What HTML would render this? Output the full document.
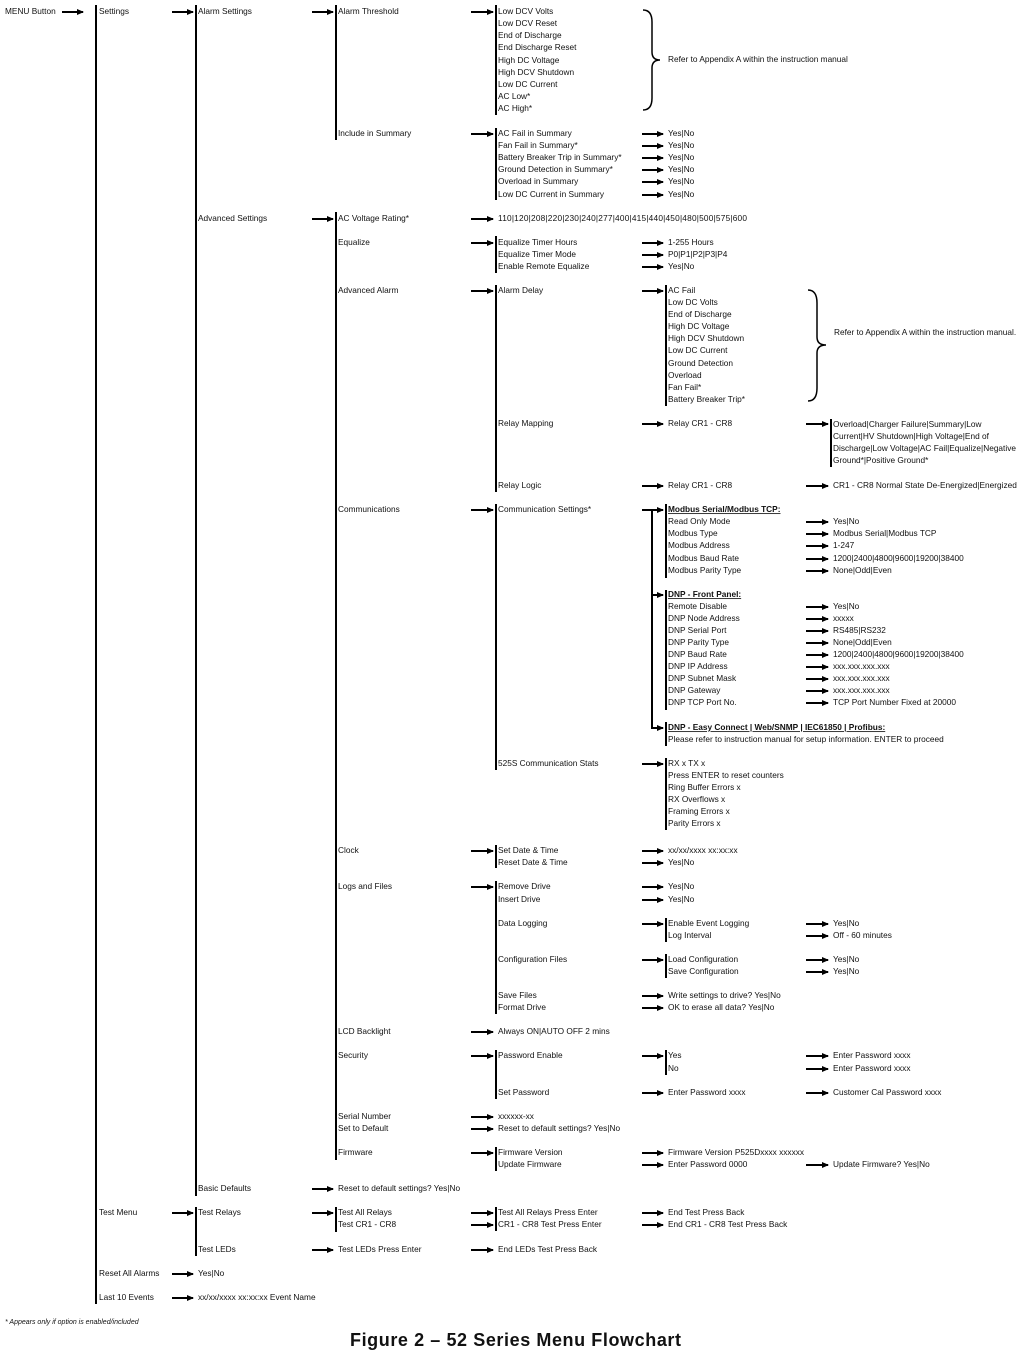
<!DOCTYPE html>
<html><head><meta charset="utf-8">
<style>
html,body{margin:0;padding:0;background:#fff;}
svg{display:block;}
text{font-family:"Liberation Sans",sans-serif;font-size:8.3px;fill:#111;dominant-baseline:middle;}
.b{font-weight:bold;text-decoration:underline;}
.v{stroke:#000;stroke-width:2;}
.a{stroke:#000;stroke-width:2;marker-end:url(#h);}
</style></head><body>
<svg width="1028" height="1360" viewBox="0 0 1028 1360" xmlns="http://www.w3.org/2000/svg">
<defs><marker id="h" markerUnits="userSpaceOnUse" markerWidth="8" markerHeight="8" refX="6" refY="3.5" orient="auto"><path d="M0,0.5 L7,3.5 L0,6.5 z" fill="#000"/></marker></defs>

<!-- vertical lines -->
<g class="v">
<line x1="96" y1="5" x2="96" y2="1304"/>
<line x1="196" y1="5" x2="196" y2="1196"/><line x1="196" y1="1207" x2="196" y2="1256"/>
<line x1="336" y1="5" x2="336" y2="140"/><line x1="336" y1="212" x2="336" y2="1160"/><line x1="336" y1="1207" x2="336" y2="1232"/>
<line x1="496" y1="5" x2="496" y2="115"/><line x1="496" y1="128" x2="496" y2="200"/><line x1="496" y1="236" x2="496" y2="273"/><line x1="496" y1="285" x2="496" y2="492"/><line x1="496" y1="504" x2="496" y2="770"/><line x1="496" y1="845" x2="496" y2="868"/><line x1="496" y1="881" x2="496" y2="1014"/><line x1="496" y1="1050" x2="496" y2="1099"/><line x1="496" y1="1147" x2="496" y2="1171"/><line x1="496" y1="1207" x2="496" y2="1231"/>
<line x1="666" y1="285" x2="666" y2="406"/><line x1="666" y1="504" x2="666" y2="578"/><line x1="666" y1="590" x2="666" y2="710"/><line x1="666" y1="722" x2="666" y2="746"/><line x1="666" y1="758" x2="666" y2="830"/><line x1="666" y1="918" x2="666" y2="942"/><line x1="666" y1="954" x2="666" y2="978"/><line x1="666" y1="1050" x2="666" y2="1075"/>
<line x1="831" y1="419" x2="831" y2="467"/>
<line x1="652" y1="510" x2="652" y2="729"/>
</g>

<!-- arrows -->
<g class="a">
<line x1="62" y1="12" x2="83" y2="12"/>
<line x1="172" y1="12" x2="193" y2="12"/><line x1="172" y1="1213" x2="193" y2="1213"/><line x1="172" y1="1274" x2="193" y2="1274"/><line x1="172" y1="1298" x2="193" y2="1298"/>
<line x1="312" y1="12" x2="333" y2="12"/><line x1="312" y1="219" x2="333" y2="219"/><line x1="312" y1="1189" x2="333" y2="1189"/><line x1="312" y1="1213" x2="333" y2="1213"/><line x1="312" y1="1250" x2="333" y2="1250"/>
<line x1="471" y1="12" x2="493" y2="12"/><line x1="471" y1="134" x2="493" y2="134"/><line x1="471" y1="219" x2="493" y2="219"/><line x1="471" y1="243" x2="493" y2="243"/><line x1="471" y1="291" x2="493" y2="291"/><line x1="471" y1="510" x2="493" y2="510"/><line x1="471" y1="851" x2="493" y2="851"/><line x1="471" y1="887" x2="493" y2="887"/><line x1="471" y1="1032" x2="493" y2="1032"/><line x1="471" y1="1056" x2="493" y2="1056"/><line x1="471" y1="1117" x2="493" y2="1117"/><line x1="471" y1="1129" x2="493" y2="1129"/><line x1="471" y1="1153" x2="493" y2="1153"/><line x1="471" y1="1213" x2="493" y2="1213"/><line x1="471" y1="1225" x2="493" y2="1225"/><line x1="471" y1="1250" x2="493" y2="1250"/>
<line x1="642" y1="134" x2="663" y2="134"/><line x1="642" y1="146" x2="663" y2="146"/><line x1="642" y1="158" x2="663" y2="158"/><line x1="642" y1="170" x2="663" y2="170"/><line x1="642" y1="182" x2="663" y2="182"/><line x1="642" y1="195" x2="663" y2="195"/>
<line x1="642" y1="243" x2="663" y2="243"/><line x1="642" y1="255" x2="663" y2="255"/><line x1="642" y1="267" x2="663" y2="267"/><line x1="642" y1="291" x2="663" y2="291"/><line x1="642" y1="424" x2="663" y2="424"/><line x1="642" y1="486" x2="663" y2="486"/><line x1="642" y1="510" x2="663" y2="510"/><line x1="652" y1="595" x2="663" y2="595"/><line x1="651" y1="728" x2="663" y2="728"/><line x1="642" y1="764" x2="663" y2="764"/>
<line x1="642" y1="851" x2="663" y2="851"/><line x1="642" y1="863" x2="663" y2="863"/><line x1="642" y1="887" x2="663" y2="887"/><line x1="642" y1="900" x2="663" y2="900"/><line x1="642" y1="924" x2="663" y2="924"/><line x1="642" y1="960" x2="663" y2="960"/><line x1="642" y1="996" x2="663" y2="996"/><line x1="642" y1="1008" x2="663" y2="1008"/><line x1="642" y1="1056" x2="663" y2="1056"/><line x1="642" y1="1093" x2="663" y2="1093"/><line x1="642" y1="1153" x2="663" y2="1153"/><line x1="642" y1="1165" x2="663" y2="1165"/><line x1="642" y1="1213" x2="663" y2="1213"/><line x1="642" y1="1225" x2="663" y2="1225"/>
<line x1="806" y1="424" x2="828" y2="424"/><line x1="806" y1="486" x2="828" y2="486"/>
<line x1="806" y1="522" x2="828" y2="522"/><line x1="806" y1="534" x2="828" y2="534"/><line x1="806" y1="546" x2="828" y2="546"/><line x1="806" y1="559" x2="828" y2="559"/><line x1="806" y1="571" x2="828" y2="571"/>
<line x1="806" y1="607" x2="828" y2="607"/><line x1="806" y1="619" x2="828" y2="619"/><line x1="806" y1="631" x2="828" y2="631"/><line x1="806" y1="643" x2="828" y2="643"/><line x1="806" y1="655" x2="828" y2="655"/><line x1="806" y1="667" x2="828" y2="667"/><line x1="806" y1="679" x2="828" y2="679"/><line x1="806" y1="691" x2="828" y2="691"/><line x1="806" y1="703" x2="828" y2="703"/>
<line x1="806" y1="924" x2="828" y2="924"/><line x1="806" y1="936" x2="828" y2="936"/><line x1="806" y1="960" x2="828" y2="960"/><line x1="806" y1="972" x2="828" y2="972"/><line x1="806" y1="1056" x2="828" y2="1056"/><line x1="806" y1="1069" x2="828" y2="1069"/><line x1="806" y1="1093" x2="828" y2="1093"/><line x1="806" y1="1165" x2="828" y2="1165"/>
</g>

<!-- braces -->
<path d="M643,10 Q652,10 652,22 L652,52 Q652,60 660,60 Q652,60 652,68 L652,98 Q652,110 643,110" fill="none" stroke="#000" stroke-width="1.5"/>
<path d="M808,290 Q817,290 817,303 L817,337 Q817,345 826,345 Q817,345 817,353 L817,388 Q817,401 808,401" fill="none" stroke="#000" stroke-width="1.5"/>

<!-- col0/1 -->
<text x="5" y="12">MENU Button</text>
<text x="99" y="12">Settings</text><text x="99" y="1213">Test Menu</text><text x="99" y="1274">Reset All Alarms</text><text x="99" y="1298">Last 10 Events</text>
<!-- col2 -->
<text x="198" y="12">Alarm Settings</text><text x="198" y="219">Advanced Settings</text><text x="198" y="1189">Basic Defaults</text><text x="198" y="1213">Test Relays</text><text x="198" y="1250">Test LEDs</text><text x="198" y="1274">Yes|No</text><text x="198" y="1298">xx/xx/xxxx xx:xx:xx  Event Name</text>
<!-- col3 -->
<g>
<text x="338" y="12">Alarm Threshold</text><text x="338" y="134">Include in Summary</text><text x="338" y="219">AC Voltage Rating*</text><text x="338" y="243">Equalize</text><text x="338" y="291">Advanced Alarm</text><text x="338" y="510">Communications</text><text x="338" y="851">Clock</text><text x="338" y="887">Logs and Files</text><text x="338" y="1032">LCD Backlight</text><text x="338" y="1056">Security</text><text x="338" y="1117">Serial Number</text><text x="338" y="1129">Set to Default</text><text x="338" y="1153">Firmware</text><text x="338" y="1189">Reset to default settings? Yes|No</text><text x="338" y="1213">Test All Relays</text><text x="338" y="1225">Test CR1 - CR8</text><text x="338" y="1250">Test LEDs Press Enter</text>
</g>
<!-- col4 -->
<g>
<text x="498" y="12">Low DCV Volts</text><text x="498" y="24">Low DCV Reset</text><text x="498" y="36">End of Discharge</text><text x="498" y="48">End Discharge Reset</text><text x="498" y="61">High DC Voltage</text><text x="498" y="73">High DCV Shutdown</text><text x="498" y="85">Low DC Current</text><text x="498" y="97">AC Low*</text><text x="498" y="109">AC High*</text>
<text x="498" y="134">AC Fail in Summary</text><text x="498" y="146">Fan Fail in Summary*</text><text x="498" y="158">Battery Breaker Trip in Summary*</text><text x="498" y="170">Ground Detection in Summary*</text><text x="498" y="182">Overload in Summary</text><text x="498" y="195">Low DC Current in Summary</text>
<text x="498" y="219" textLength="249">110|120|208|220|230|240|277|400|415|440|450|480|500|575|600</text>
<text x="498" y="243">Equalize Timer Hours</text><text x="498" y="255">Equalize Timer Mode</text><text x="498" y="267">Enable Remote Equalize</text>
<text x="498" y="291">Alarm Delay</text><text x="498" y="424">Relay Mapping</text><text x="498" y="486">Relay Logic</text><text x="498" y="510">Communication Settings*</text><text x="498" y="764">525S Communication Stats</text>
<text x="498" y="851">Set Date &amp; Time</text><text x="498" y="863">Reset Date &amp; Time</text>
<text x="498" y="887">Remove Drive</text><text x="498" y="900">Insert Drive</text><text x="498" y="924">Data Logging</text><text x="498" y="960">Configuration Files</text><text x="498" y="996">Save Files</text><text x="498" y="1008">Format Drive</text>
<text x="498" y="1032">Always ON|AUTO OFF 2 mins</text><text x="498" y="1056">Password Enable</text><text x="498" y="1093">Set Password</text>
<text x="498" y="1117">xxxxxx-xx</text><text x="498" y="1129">Reset to default settings? Yes|No</text>
<text x="498" y="1153">Firmware Version</text><text x="498" y="1165">Update Firmware</text>
<text x="498" y="1213">Test All Relays Press Enter</text><text x="498" y="1225">CR1 - CR8 Test Press Enter</text><text x="498" y="1250">End LEDs Test Press Back</text>
</g>
<text x="668" y="60">Refer to Appendix A within the instruction manual</text>
<!-- col5 -->
<g>
<text x="668" y="134">Yes|No</text><text x="668" y="146">Yes|No</text><text x="668" y="158">Yes|No</text><text x="668" y="170">Yes|No</text><text x="668" y="182">Yes|No</text><text x="668" y="195">Yes|No</text>
<text x="668" y="243">1-255 Hours</text><text x="668" y="255">P0|P1|P2|P3|P4</text><text x="668" y="267">Yes|No</text>
<text x="668" y="291">AC Fail</text><text x="668" y="303">Low DC Volts</text><text x="668" y="315">End of Discharge</text><text x="668" y="327">High DC Voltage</text><text x="668" y="339">High DCV Shutdown</text><text x="668" y="351">Low DC Current</text><text x="668" y="364">Ground Detection</text><text x="668" y="376">Overload</text><text x="668" y="388">Fan Fail*</text><text x="668" y="400">Battery Breaker Trip*</text>
<text x="668" y="424">Relay CR1 - CR8</text><text x="668" y="486">Relay CR1 - CR8</text>
<text x="668" y="510" class="b">Modbus Serial/Modbus TCP:</text>
<text x="668" y="522">Read Only Mode</text><text x="668" y="534">Modbus Type</text><text x="668" y="546">Modbus Address</text><text x="668" y="559">Modbus Baud Rate</text><text x="668" y="571">Modbus Parity Type</text>
<text x="668" y="595" class="b">DNP - Front Panel:</text>
<text x="668" y="607">Remote Disable</text><text x="668" y="619">DNP Node Address</text><text x="668" y="631">DNP Serial Port</text><text x="668" y="643">DNP Parity Type</text><text x="668" y="655">DNP Baud Rate</text><text x="668" y="667">DNP IP Address</text><text x="668" y="679">DNP Subnet Mask</text><text x="668" y="691">DNP Gateway</text><text x="668" y="703">DNP TCP Port No.</text>
<text x="668" y="728" class="b">DNP - Easy Connect | Web/SNMP | IEC61850 | Profibus:</text>
<text x="668" y="740">Please refer to instruction manual for setup information. ENTER to proceed</text>
<text x="668" y="764">RX x   TX x</text><text x="668" y="776">Press ENTER to reset counters</text><text x="668" y="788">Ring Buffer Errors x</text><text x="668" y="800">RX Overflows x</text><text x="668" y="812">Framing Errors x</text><text x="668" y="824">Parity Errors x</text>
<text x="668" y="851">xx/xx/xxxx  xx:xx:xx</text><text x="668" y="863">Yes|No</text>
<text x="668" y="887">Yes|No</text><text x="668" y="900">Yes|No</text>
<text x="668" y="924">Enable Event Logging</text><text x="668" y="936">Log Interval</text>
<text x="668" y="960">Load Configuration</text><text x="668" y="972">Save Configuration</text>
<text x="668" y="996">Write settings to drive? Yes|No</text><text x="668" y="1008">OK to erase all data? Yes|No</text>
<text x="668" y="1056">Yes</text><text x="668" y="1069">No</text><text x="668" y="1093">Enter Password xxxx</text>
<text x="668" y="1153">Firmware Version P525Dxxxx xxxxxx</text><text x="668" y="1165">Enter Password 0000</text>
<text x="668" y="1213">End Test Press Back</text><text x="668" y="1225">End CR1 - CR8 Test Press Back</text>
</g>
<text x="834" y="333">Refer to Appendix A within the instruction manual.</text>
<!-- col6 -->
<g>
<text x="833" y="425">Overload|Charger Failure|Summary|Low</text><text x="833" y="437">Current|HV Shutdown|High Voltage|End of</text><text x="833" y="449">Discharge|Low Voltage|AC Fail|Equalize|Negative</text><text x="833" y="461">Ground*|Positive Ground*</text>
<text x="833" y="486">CR1 - CR8 Normal State De-Energized|Energized</text>
<text x="833" y="522">Yes|No</text><text x="833" y="534">Modbus Serial|Modbus TCP</text><text x="833" y="546">1-247</text><text x="833" y="559">1200|2400|4800|9600|19200|38400</text><text x="833" y="571">None|Odd|Even</text>
<text x="833" y="607">Yes|No</text><text x="833" y="619">xxxxx</text><text x="833" y="631">RS485|RS232</text><text x="833" y="643">None|Odd|Even</text><text x="833" y="655">1200|2400|4800|9600|19200|38400</text><text x="833" y="667">xxx.xxx.xxx.xxx</text><text x="833" y="679">xxx.xxx.xxx.xxx</text><text x="833" y="691">xxx.xxx.xxx.xxx</text><text x="833" y="703">TCP Port Number Fixed at 20000</text>
<text x="833" y="924">Yes|No</text><text x="833" y="936">Off - 60 minutes</text><text x="833" y="960">Yes|No</text><text x="833" y="972">Yes|No</text>
<text x="833" y="1056">Enter Password xxxx</text><text x="833" y="1069">Enter Password xxxx</text><text x="833" y="1093">Customer Cal Password xxxx</text>
<text x="833" y="1165">Update Firmware? Yes|No</text>
</g>
<text x="5" y="1322" style="font-style:italic;font-size:7px">* Appears only if option is enabled/included</text>
<text x="350" y="1341" textLength="331" style="font-weight:bold;font-size:18px">Figure 2 – 52 Series Menu Flowchart</text>
</svg>
</body></html>
